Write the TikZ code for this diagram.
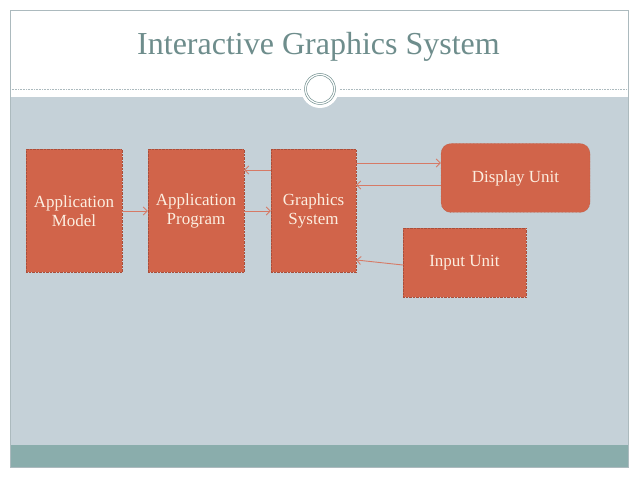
\documentclass[tikz,border=0pt]{standalone}
\usepackage{fontspec}
\setmainfont{Liberation Serif}
\usepackage{tikz}
\usetikzlibrary{arrows.meta}

\definecolor{bandgray}{RGB}{197,209,216}
\definecolor{footteal}{RGB}{138,173,172}
\definecolor{framegray}{RGB}{172,186,190}
\definecolor{titlegray}{RGB}{110,141,140}
\definecolor{boxred}{RGB}{209,100,74}
\definecolor{boxedge}{RGB}{170,78,58}
\definecolor{boxtext}{RGB}{252,238,224}
\definecolor{linkred}{RGB}{214,122,102}

\tikzset{
    unitbox/.style={draw=boxedge, densely dotted, fill=boxred, text=boxtext,
        align=center, font=\fontsize{17}{19}\selectfont, inner sep=0pt},
    link/.style={linkred, line width=0.9pt, -{Straight Barb[length=4pt, width=8pt]}}
}

\begin{document}
\begin{tikzpicture}[x=1pt, y=-1pt]
    \useasboundingbox (0,0) rectangle (638,478);

    % Slide background
    \fill[white] (0,0) rectangle (638,478);
    \fill[bandgray] (10,97) rectangle (628,445);
    \fill[footteal] (10,445) rectangle (628,467);
    \draw[framegray, line width=0.6pt] (10,10) rectangle (628,467);
    \draw[framegray, line width=0.6pt, densely dotted] (10,89) -- (628,89);

    % Title and ornament
    \node[text=titlegray, font=\fontsize{32}{38}\selectfont] (title) at (318.5,47) {Interactive Graphics System};
    \fill[white] (320,89) circle (19);
    \draw[titlegray, line width=0.5pt] (320,89) circle (15.5);
    \draw[titlegray, line width=0.5pt] (320,89) circle (13.5);

    % Units
    \node[unitbox, minimum width=96pt, minimum height=123pt] (model) at (74,211) {Application\\Model};
    \node[unitbox, minimum width=96pt, minimum height=123pt] (prog) at (196,211) {Application\\Program};
    \node[unitbox, minimum width=85pt, minimum height=123pt] (gfx) at (313.5,211) {Graphics\\System};
    \node[unitbox, rounded corners=10pt, minimum width=149pt, minimum height=69pt] (disp) at (515.5,178) {Display Unit};
    \node[unitbox, minimum width=123pt, minimum height=69pt] (inp) at (464.5,263) {Input Unit};

    % Connections
    \draw[link] (model.east) -- (prog.west);
    \draw[link] (prog.east) -- (gfx.west);
    \draw[link] ([yshift=41pt]gfx.west) -- ([yshift=41pt]prog.east);
    \draw[link] ([yshift=48pt]gfx.east) -- ([yshift=48pt]gfx.east -| disp.west);
    \draw[link] ([yshift=-7pt]disp.west) -- ([yshift=-7pt]disp.west -| gfx.east);
    \draw[link] ([yshift=-2pt]inp.west) -- ([yshift=-49pt]gfx.east);
\end{tikzpicture}
\end{document}
